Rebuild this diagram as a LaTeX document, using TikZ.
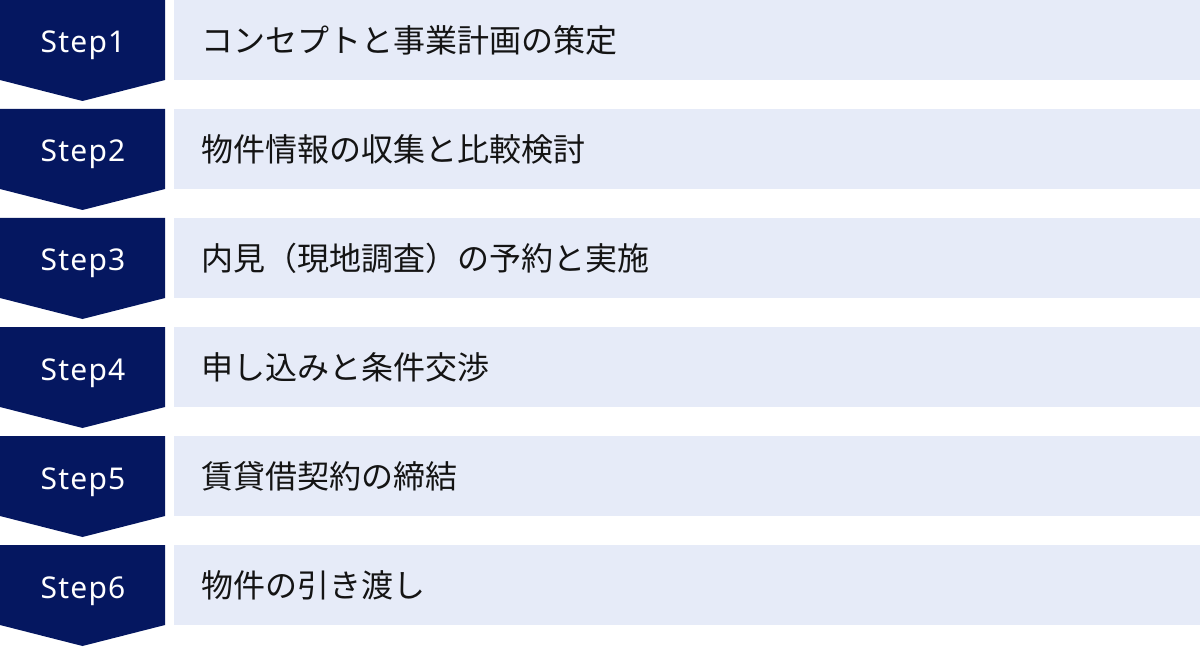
\documentclass[tikz,border=0pt]{standalone}
\usepackage{fontspec}
\setmainfont{Noto Sans CJK JP}
\newfontfamily\jpfont{Noto Sans CJK JP}
\newfontfamily\stepfont[LetterSpace=4]{Noto Sans}
\definecolor{navy}{RGB}{5,23,96}
\definecolor{paleblue}{RGB}{230,235,248}
\definecolor{ink}{RGB}{20,20,20}
\tikzset{
  chevron/.style={fill=navy, draw=none},
  bar/.style={fill=paleblue, draw=none},
  steplabel/.style={text=white, font=\stepfont\fontsize{30}{34}\selectfont, anchor=base, inner sep=0pt},
  tasklabel/.style={text=ink, font=\jpfont\fontsize{32}{36}\selectfont, anchor=west, inner sep=0pt},
}
\begin{document}
\begin{tikzpicture}[x=1pt,y=-1pt]
\useasboundingbox (0,0) rectangle (1200,647);
\foreach \i/\txt in {0/{コンセプトと事業計画の策定},1/{物件情報の収集と比較検討},2/{内見（現地調査）の予約と実施},3/{申し込みと条件交渉},4/{賃貸借契約の締結},5/{物件の引き渡し}}{
  \pgfmathsetmacro{\t}{109*\i}
  \pgfmathtruncatemacro{\n}{\i+1}
  \fill[chevron] (0,\t) -- (165,\t) -- (165,\t+80) -- (82.5,\t+101) -- (0,\t+80) -- cycle;
  \fill[bar] (174,\t) rectangle (1200,\t+80);
  \node[steplabel] (step\n) at (83,\t+53) {Step\n};
  \node[tasklabel] (task\n) at (201,\t+40) {\txt};
}
\end{tikzpicture}
\end{document}
